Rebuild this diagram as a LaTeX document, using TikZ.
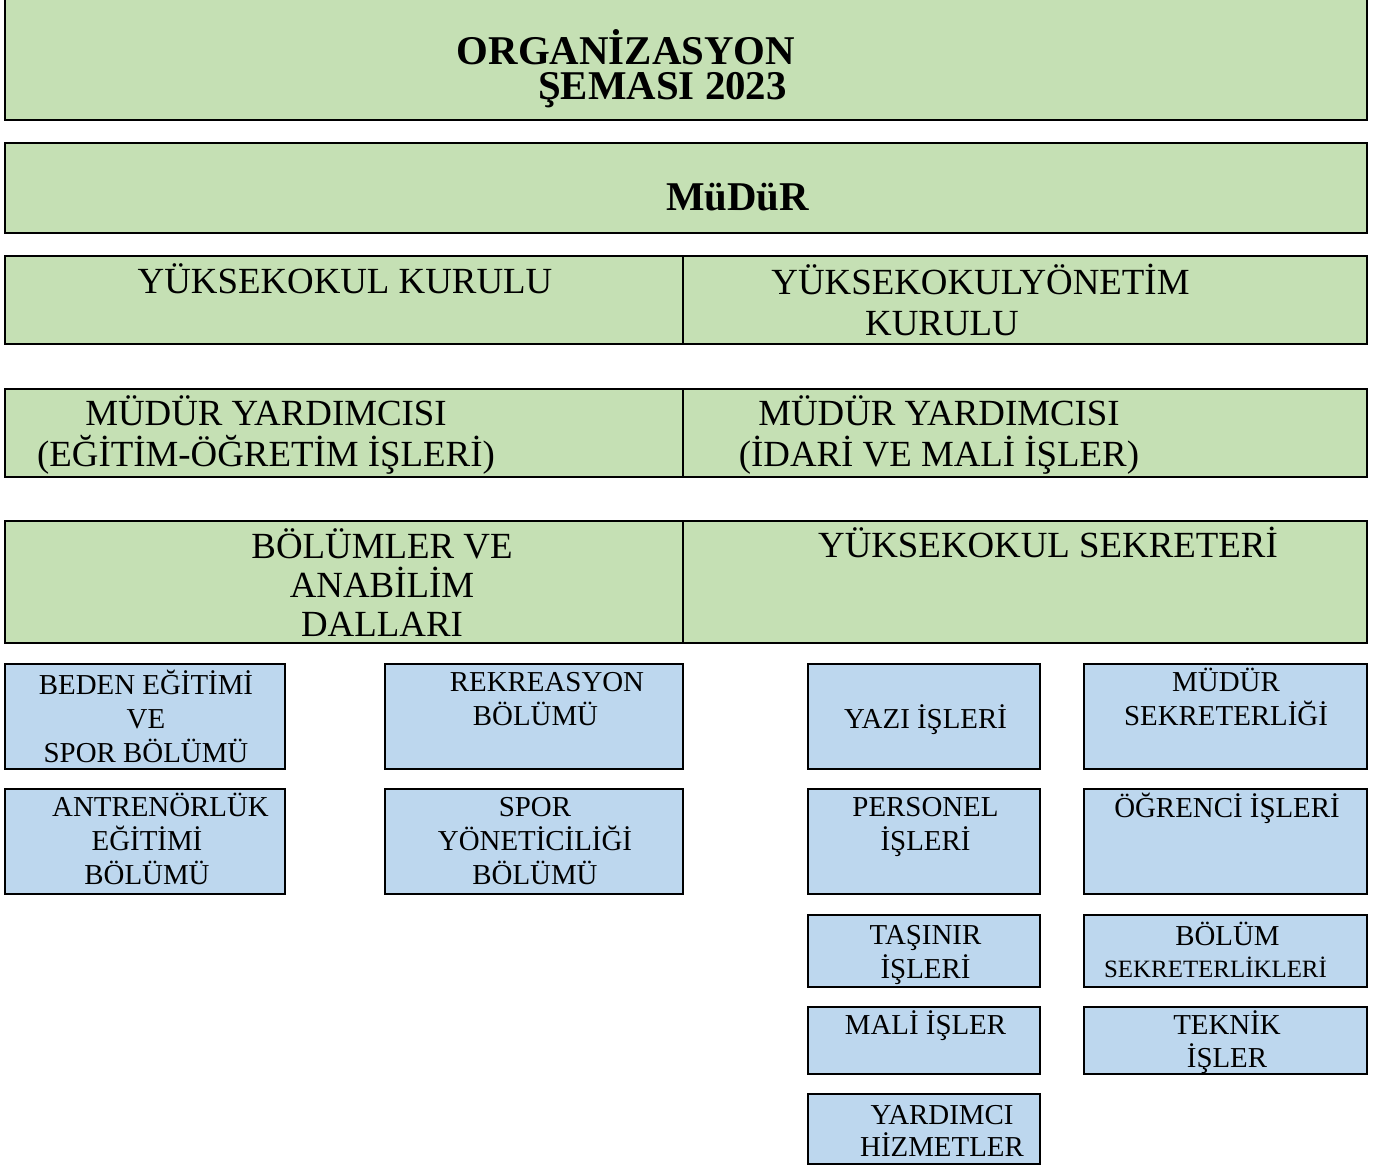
\documentclass[tikz,border=0pt]{standalone}
\usepackage{fontspec}
\setmainfont{Liberation Serif}
\usepackage{tikz}
\usetikzlibrary{shapes}
\definecolor{boxgreen}{RGB}{197,224,180}
\definecolor{boxblue}{RGB}{189,215,238}
\newcommand{\gfont}{\fontsize{37}{41}\selectfont}
\newcommand{\bfont}{\fontsize{29}{34}\selectfont}

\begin{document}
\begin{tikzpicture}[
  greenbox/.style={draw,line width=2.3bp,fill=boxgreen,inner sep=0,outer sep=0},
  bluebox/.style={draw,line width=2.3bp,fill=boxblue,inner sep=0,outer sep=0},
  lbl/.style={anchor=base,align=center,inner sep=0}]
\useasboundingbox (0bp,0bp) rectangle (1379bp,-1166bp);
% green rows
\node (baslik) at (686bp,-57.5bp)[greenbox,minimum width=1362bp,minimum height=125bp] {};
\node (mudur) at (686bp,-188bp)[greenbox,minimum width=1362bp,minimum height=90bp] {};
\node (ykurul) at (344bp,-300bp)[greenbox,minimum width=678bp,minimum height=88bp] {};
\node (yonkurul) at (1025bp,-300bp)[greenbox,minimum width=684bp,minimum height=88bp] {};
\node (yrdegitim) at (344bp,-433bp)[greenbox,minimum width=678bp,minimum height=88bp] {};
\node (yrdidari) at (1025bp,-433bp)[greenbox,minimum width=684bp,minimum height=88bp] {};
\node (bolumler) at (344bp,-582bp)[greenbox,minimum width=678bp,minimum height=122bp] {};
\node (sekreter) at (1025bp,-582bp)[greenbox,minimum width=684bp,minimum height=122bp] {};
% blue boxes
\node (beden) at (145bp,-716.5bp)[bluebox,minimum width=280bp,minimum height=105bp] {};
\node (rekreasyon) at (534bp,-716.5bp)[bluebox,minimum width=298bp,minimum height=105bp] {};
\node (antrenor) at (145bp,-841.5bp)[bluebox,minimum width=280bp,minimum height=105bp] {};
\node (sporyon) at (534bp,-841.5bp)[bluebox,minimum width=298bp,minimum height=105bp] {};
\node (yazi) at (924bp,-716.5bp)[bluebox,minimum width=232bp,minimum height=105bp] {};
\node (mudsek) at (1225.5bp,-716.5bp)[bluebox,minimum width=283bp,minimum height=105bp] {};
\node (personel) at (924bp,-841.5bp)[bluebox,minimum width=232bp,minimum height=105bp] {};
\node (ogrenci) at (1225.5bp,-841.5bp)[bluebox,minimum width=283bp,minimum height=105bp] {};
\node (tasinir) at (924bp,-951bp)[bluebox,minimum width=232bp,minimum height=72bp] {};
\node (bolsek) at (1225.5bp,-951bp)[bluebox,minimum width=283bp,minimum height=72bp] {};
\node (mali) at (924bp,-1040.5bp)[bluebox,minimum width=232bp,minimum height=67bp] {};
\node (teknik) at (1225.5bp,-1040.5bp)[bluebox,minimum width=283bp,minimum height=67bp] {};
\node (yardimci) at (924bp,-1129bp)[bluebox,minimum width=232bp,minimum height=70bp] {};
% texts (placed at the baseline of their last line)
\node (baslikT) at (626bp,-99bp)[lbl,font=\bfseries\fontsize{41}{35}\selectfont] {ORGANİZASYON\\\hspace*{73bp}ŞEMASI 2023};
\node (mudurT) at (737.5bp,-210bp)[lbl,font=\bfseries\fontsize{41}{33}\selectfont] {MüDüR};
\node (ykurulT) at (345bp,-293bp)[lbl,font=\gfont] {YÜKSEKOKUL KURULU};
\node (yonkurulT) at (942bp,-335bp)[lbl,font=\gfont] {\hspace*{77bp}YÜKSEKOKULYÖNETİM\\KURULU};
\node (yrdegitimT) at (266bp,-466bp)[lbl,font=\gfont] {MÜDÜR YARDIMCISI\\(EĞİTİM-ÖĞRETİM İŞLERİ)};
\node (yrdidariT) at (939bp,-466bp)[lbl,font=\gfont] {MÜDÜR YARDIMCISI\\(İDARİ VE MALİ İŞLER)};
\node (bolumlerT) at (382bp,-636bp)[lbl,font=\fontsize{37}{39}\selectfont] {BÖLÜMLER VE\\ANABİLİM\\DALLARI};
\node (sekreterT) at (1048bp,-557bp)[lbl,font=\gfont] {YÜKSEKOKUL SEKRETERİ};
\node (bedenT) at (146bp,-762bp)[lbl,font=\bfont] {BEDEN EĞİTİMİ\\VE\\SPOR BÖLÜMÜ};
\node (rekreasyonT) at (535.5bp,-725bp)[lbl,font=\bfont] {\hspace*{23bp}REKREASYON\\BÖLÜMÜ};
\node (antrenorT) at (147bp,-884bp)[lbl,font=\bfont] {\hspace*{27bp}ANTRENÖRLÜK\\EĞİTİMİ\\BÖLÜMÜ};
\node (sporyonT) at (535bp,-884bp)[lbl,font=\bfont] {SPOR\\YÖNETİCİLİĞİ\\BÖLÜMÜ};
\node (yaziT) at (925.5bp,-728bp)[lbl,font=\bfont] {YAZI İŞLERİ};
\node (mudsekT) at (1226bp,-725bp)[lbl,font=\bfont] {MÜDÜR\\SEKRETERLİĞİ};
\node (personelT) at (925.5bp,-850bp)[lbl,font=\bfont] {PERSONEL\\İŞLERİ};
\node (ogrenciT) at (1227bp,-817bp)[lbl,font=\bfont] {ÖĞRENCİ İŞLERİ};
\node (tasinirT) at (925.5bp,-978bp)[lbl,font=\bfont] {TAŞINIR\\İŞLERİ};
\node (bolsekT) at (1215.5bp,-977bp)[lbl,font=\fontsize{29}{32}\selectfont] {\hspace*{24bp}BÖLÜM\\{\fontsize{25}{32}\selectfont SEKRETERLİKLERİ}};
\node (maliT) at (925.5bp,-1034bp)[lbl,font=\bfont] {MALİ İŞLER};
\node (teknikT) at (1227bp,-1067bp)[lbl,font=\fontsize{29}{33}\selectfont] {TEKNİK\\İŞLER};
\node (yardimciT) at (942bp,-1156bp)[lbl,font=\fontsize{29}{32}\selectfont] {YARDIMCI\\HİZMETLER};
\end{tikzpicture}
\end{document}
